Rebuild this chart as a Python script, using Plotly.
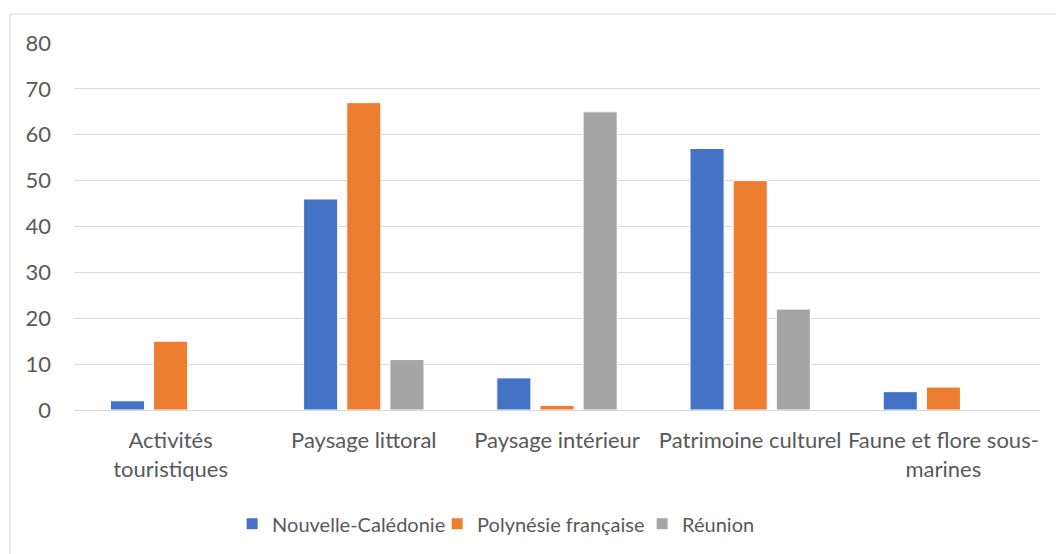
import plotly.graph_objects as go

categories = [
    "Activités<br>touristiques",
    "Paysage littoral",
    "Paysage intérieur",
    "Patrimoine culturel",
    "Faune et flore sous-<br>marines",
]
nouvelle_caledonie = [2, 46, 7, 57, 4]
polynesie_francaise = [15, 67, 1, 50, 5]
reunion = [0, 11, 65, 22, 0]
y_ticks = [0, 10, 20, 30, 40, 50, 60, 70, 80]

series = [
    ("Nouvelle-Calédonie", nouvelle_caledonie, "#4472C4"),
    ("Polynésie française", polynesie_francaise, "#ED7D31"),
    ("Réunion", reunion, "#A5A5A5"),
]

W, H = 1056, 554
ml, mr, mt, mb = 74, 16, 43, 144
font = "Lato"
fsize = 22
text_color = "#595959"

fig = go.Figure()
for name, vals, color in series:
    fig.add_trace(go.Bar(
        x=categories, y=vals, name=name,
        marker=dict(color=color, line=dict(color="white", width=1)),
    ))

pw = W - ml - mr
ph = H - mt - mb
# chart-area frame (extends past the right/bottom edges of the page)
fig.add_shape(
    type="rect", xref="paper", yref="paper",
    x0=(10 - ml) / pw, x1=(W + 5 - ml) / pw,
    y0=-(H + 5 - mt - ph) / ph, y1=(ph + mt - 14) / ph,
    line=dict(color="#D9D9D9", width=1), fillcolor="rgba(0,0,0,0)", layer="below",
)

fig.update_layout(
    width=W, height=H,
    margin=dict(l=ml, r=mr, t=mt, b=mb, autoexpand=False),
    paper_bgcolor="white", plot_bgcolor="white",
    barmode="group", bargap=0.33, bargroupgap=0.21,
    font=dict(family=font, size=fsize, color=text_color),
    showlegend=True,
    legend=dict(
        orientation="h", x=0.482, xanchor="center", y=-0.31, yanchor="middle",
        font=dict(family=font, size=20, color=text_color),
        itemwidth=30, traceorder="normal",
        entrywidth=160, entrywidthmode="pixels",
    ),
    xaxis=dict(
        showgrid=False, showline=True, linecolor="#D9D9D9", linewidth=1,
        ticks="", tickfont=dict(family=font, size=fsize, color=text_color),
        ticklabelstandoff=11, automargin=False,
    ),
    yaxis=dict(
        range=[0, 80], tickvals=y_ticks, showgrid=True, gridcolor="#D9D9D9",
        gridwidth=1, zeroline=True, zerolinecolor="#D9D9D9", zerolinewidth=1,
        showline=False, ticks="", ticklabelstandoff=22, automargin=False,
        tickfont=dict(family=font, size=fsize, color=text_color),
    ),
)

fig.write_html("out.html")
